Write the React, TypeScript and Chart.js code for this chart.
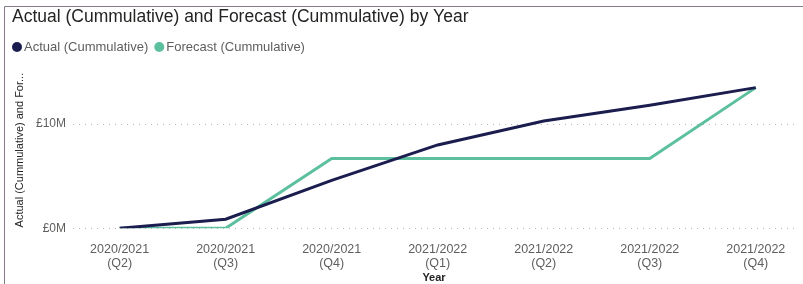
import React, { useEffect, useRef } from "react";
import { Chart, registerables } from "chart.js";

Chart.register(...registerables);

const titleText = "Actual (Cummulative) and Forecast (Cummulative) by Year";
const categories: string[][] = [
  ["2020/2021", "(Q2)"],
  ["2020/2021", "(Q3)"],
  ["2020/2021", "(Q4)"],
  ["2021/2022", "(Q1)"],
  ["2021/2022", "(Q2)"],
  ["2021/2022", "(Q3)"],
  ["2021/2022", "(Q4)"],
];
const actualName = "Actual (Cummulative)";
const forecastName = "Forecast (Cummulative)";
const actualValues = [0, 0.87e6, 4.6e6, 8.0e6, 10.3e6, 11.8e6, 13.5e6];
const forecastValues = [0, 0, 6.7e6, 6.7e6, 6.7e6, 6.7e6, 13.5e6];
const yTickValues = [0, 10e6];
const yTickLabels = ["£0M", "£10M"];
const yAxisTitle = "Actual (Cummulative) and For...";
const xAxisTitle = "Year";

const NAVY = "#1b1d4f";
const TEAL = "#5cc09e";
const FONT = "'Liberation Sans', Arial, sans-serif";

export default function App() {
  const ref = useRef<HTMLCanvasElement | null>(null);

  useEffect(() => {
    document.body.style.margin = "0";
    const canvas = ref.current;
    if (!canvas) return;

    const decor = {
      id: "decor",
      afterDraw(chart: any) {
        const ctx = chart.ctx;
        ctx.save();
        // frame
        ctx.strokeStyle = "#857a88";
        ctx.lineWidth = 1;
        ctx.beginPath();
        ctx.moveTo(4.5, 284);
        ctx.lineTo(4.5, 6.5);
        ctx.lineTo(803, 6.5);
        ctx.stroke();
        // title
        ctx.fillStyle = "#252423";
        ctx.font = `17.5px ${FONT}`;
        ctx.textBaseline = "middle";
        ctx.textAlign = "left";
        ctx.fillText(titleText, 12, 17);
        // legend
        ctx.font = `13px ${FONT}`;
        const items = [
          { name: actualName, color: NAVY },
          { name: forecastName, color: TEAL },
        ];
        let x = 12;
        const y = 47;
        for (const it of items) {
          ctx.fillStyle = it.color;
          ctx.beginPath();
          ctx.arc(x + 5, y, 5, 0, Math.PI * 2);
          ctx.fill();
          ctx.fillStyle = "#605e5c";
          ctx.fillText(it.name, x + 12, y);
          x += 12 + ctx.measureText(it.name).width + 6;
        }
        ctx.restore();
      },
    };

    const chart = new Chart(canvas, {
      type: "line",
      data: {
        datasets: [
          {
            label: actualName,
            data: actualValues.map((v, i) => ({ x: i, y: v })),
            borderColor: NAVY,
            backgroundColor: NAVY,
            borderWidth: 3,
            pointRadius: 0,
            tension: 0,
          },
          {
            label: forecastName,
            data: forecastValues.map((v, i) => ({ x: i, y: v })),
            borderColor: TEAL,
            backgroundColor: TEAL,
            borderWidth: 3,
            pointRadius: 0,
            tension: 0,
          },
        ],
      },
      options: {
        animation: false,
        responsive: false,
        devicePixelRatio: 1,
        layout: { padding: { top: 72, left: 5, right: 8, bottom: 0 } },
        plugins: {
          legend: { display: false },
          title: { display: false },
          tooltip: { enabled: false },
        },
        scales: {
          x: {
            type: "linear",
            min: -0.44,
            max: 6.37,
            grid: { display: false },
            border: { display: false },
            afterBuildTicks: (scale: any) => {
              scale.ticks = categories.map((_, i) => ({ value: i }));
            },
            ticks: {
              autoSkip: false,
              maxRotation: 0,
              color: "#605e5c",
              font: { family: FONT, size: 12.5, lineHeight: 1.15 },
              padding: 6,
              callback: (v: any) => categories[v] ?? "",
            },
            title: {
              display: true,
              text: xAxisTitle,
              color: "#252423",
              font: { family: FONT, size: 11, weight: "bold", lineHeight: 1.0 },
              padding: { top: -5, bottom: 1 },
            },
          },
          y: {
            min: 0,
            max: 15e6,
            border: { display: false, dash: [1, 5] },
            afterBuildTicks: (scale: any) => {
              scale.ticks = yTickValues.map((v) => ({ value: v }));
            },
            afterFit: (scale: any) => {
              scale.width = 68;
            },
            grid: {
              color: "#b8b6b4",
              lineWidth: 1,
              drawTicks: false,
            },
            ticks: {
              color: "#605e5c",
              font: { family: FONT, size: 12 },
              padding: 7,
              callback: (v: any) => {
                const idx = yTickValues.indexOf(v);
                return idx >= 0 ? yTickLabels[idx] : "";
              },
            },
            title: {
              display: true,
              text: yAxisTitle,
              color: "#252423",
              font: { family: FONT, size: 11 },
              padding: { top: 8, bottom: 0 },
            },
          },
        },
      } as any,
      plugins: [decor],
    });

    return () => chart.destroy();
  }, []);

  return <canvas ref={ref} width={803} height={284} style={{ display: "block" }} />;
}
